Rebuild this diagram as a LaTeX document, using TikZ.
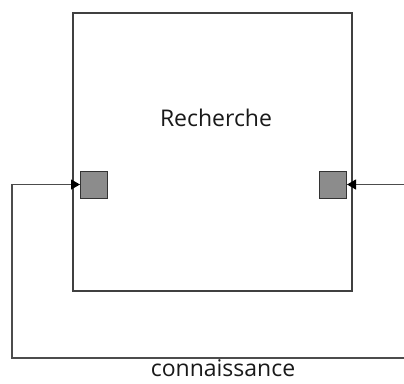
\documentclass[tikz,border=0pt]{standalone}
\usepackage{fontspec}
\setmainfont{Open Sans}
\usetikzlibrary{arrows.meta}
\tikzset{
  cadre/.style={draw=black!75, line width=1.3pt},
  port/.style={draw=black!80, fill=black!45, line width=1pt, minimum size=27pt, inner sep=0pt},
  fleche/.style={draw=black!70, line width=1.1pt, -{Triangle[length=9pt,width=10pt,fill=black,color=black]}},
  etiquette/.style={font=\fontsize{23}{26}\selectfont, text=black!90, inner sep=0pt}
}
\begin{document}
\begin{tikzpicture}[x=1pt,y=-1pt]
\useasboundingbox (0,0) rectangle (404,383);
% boite principale
\draw[cadre] (73,13) rectangle (352,291);
\node[etiquette] (recherche) at (216,118) {Recherche};
% ports
\node[port] (pin) at (94,184.5) {};
\node[port] (pout) at (333,184.5) {};
% boucle de connaissance
\coordinate (bas) at (12,358);
\coordinate (droite) at (404,184.5);
\coordinate (finbas) at (404,358);
\draw[fleche] (finbas) -- (bas) |- (pin.west);
\draw[fleche] (droite) -- (pout.east);
\node[etiquette, anchor=base] (connaissance) at (223,376) {connaissance};
\end{tikzpicture}
\end{document}
